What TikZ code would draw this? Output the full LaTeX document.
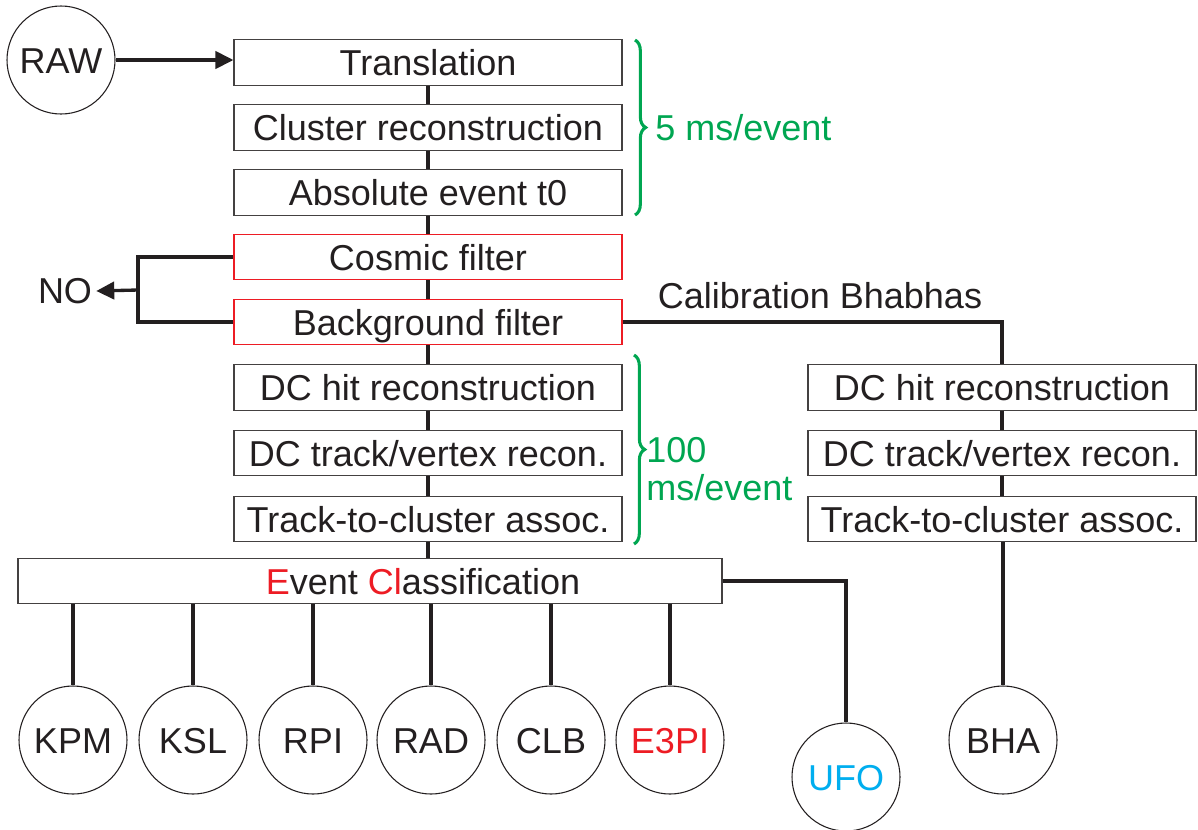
\documentclass[tikz,border=0pt]{standalone}
\usepackage{fontspec}
\setmainfont{Liberation Sans}
\usetikzlibrary{arrows.meta,decorations.pathreplacing}
\definecolor{grn}{RGB}{0,166,81}
\definecolor{rd}{RGB}{237,28,36}
\definecolor{sky}{RGB}{0,174,239}
\definecolor{ink}{RGB}{35,31,32}
\begin{document}
\begin{tikzpicture}[x=0.75pt,y=-0.75pt,
  txt/.style={font=\fontsize{27}{30}\selectfont, text=ink},
  stage/.style={txt, draw=ink!85, line width=0.9pt, minimum width=291pt,
    minimum height=34pt, inner sep=0pt, text height=19.5pt, text depth=0pt},
  filt/.style={stage, draw=rd},
  wide/.style={stage, minimum width=528pt},
  stream/.style={txt, circle, draw=ink, line width=0.8pt, minimum size=81pt,
    inner sep=0pt, text height=19.5pt, text depth=0pt},
  link/.style={draw=ink, line width=2.5pt},
  tip/.style={-{Triangle[length=13.5pt,width=13pt]}},
  brc/.style={draw=grn, line width=2.3pt, decorate, decoration={brace, amplitude=8pt}},
  gtxt/.style={font=\fontsize{27}{28.5}\selectfont, text=grn, inner sep=0pt}]
\useasboundingbox (0,0) rectangle (1198,829);

% input stream
\node[stream] (raw) at (61,60) {RAW};

% main reconstruction chain
\node[stage] (trans) at (428,62.5) {Translation};
\node[stage] (clus)  at (428,127.5) {Cluster reconstruction};
\node[stage] (t0)    at (428,192.5) {Absolute event t0};
\node[filt]  (cos)   at (428,257) {Cosmic filter};
\node[filt]  (bg)    at (428,322) {Background filter};
\node[stage] (hit)   at (428,387.5) {DC hit reconstruction};
\node[stage] (trk)   at (428,453) {DC track/vertex recon.};
\node[stage] (tca)   at (428,519) {Track-to-cluster assoc.};
\node[wide]  (ec)    at (370,581) {};
\node[txt, inner sep=0pt, text height=19.5pt, text depth=0pt] (ectxt) at (423,581)
  {\textcolor{rd}{E}vent \textcolor{rd}{Cl}assification};

% calibration branch
\node[stage] (rhit) at (1002,387.5) {DC hit reconstruction};
\node[stage] (rtrk) at (1002,453) {DC track/vertex recon.};
\node[stage] (rtca) at (1002,519) {Track-to-cluster assoc.};
\node[txt, inner sep=0pt] (calib) at (820,296) {Calibration Bhabhas};

% output streams
\node[stream] (kpm)  at (73,740)  {KPM};
\node[stream] (ksl)  at (193,740) {KSL};
\node[stream] (rpi)  at (313,740) {RPI};
\node[stream] (rad)  at (431,740) {RAD};
\node[stream] (clb)  at (551,740) {CLB};
\node[stream] (epi)  at (670,740) {\textcolor{rd}{E3PI}};
\node[stream] (ufo)  at (846,777) {\textcolor{sky}{UFO}};
\node[stream] (bha)  at (1003,740) {BHA};

% rejected events
\node[txt, inner sep=3pt] (no) at (65,291) {NO};
\coordinate (nx) at (138,290);

% connectors
\draw[link, tip] (raw.east) -- (raw.east -| trans.west);
\draw[link] (trans) -- (clus) (clus) -- (t0) (t0) -- (cos) (cos) -- (bg)
  (bg) -- (hit) (hit) -- (trk) (trk) -- (tca);
\draw[link] (tca.south) -- (tca.south |- ec.north);
\draw[link] (rhit) -- (rtrk) (rtrk) -- (rtca);
\draw[link] (bg.east) -| (rhit.north);
\draw[link] (rtca.south -| bha) -- (bha);
\draw[link] (cos.west) -| (nx) |- (bg.west);
\draw[link, tip] (nx) -- (no.east);
\foreach \s in {kpm,ksl,rpi,rad,clb,epi}
  \draw[link] (ec.south -| \s) -- (\s);
\draw[link] (ec.east) -| (ufo);

% timing braces
\draw[brc] (635,40) -- (635,215);
\node[gtxt, anchor=west] (t5) at (655,128) {5 ms/event};
\draw[brc] (634,355) -- (634,544);
\node[gtxt, anchor=west, align=left] (t100) at (646,469) {100\\ms/event};
\end{tikzpicture}
\end{document}
